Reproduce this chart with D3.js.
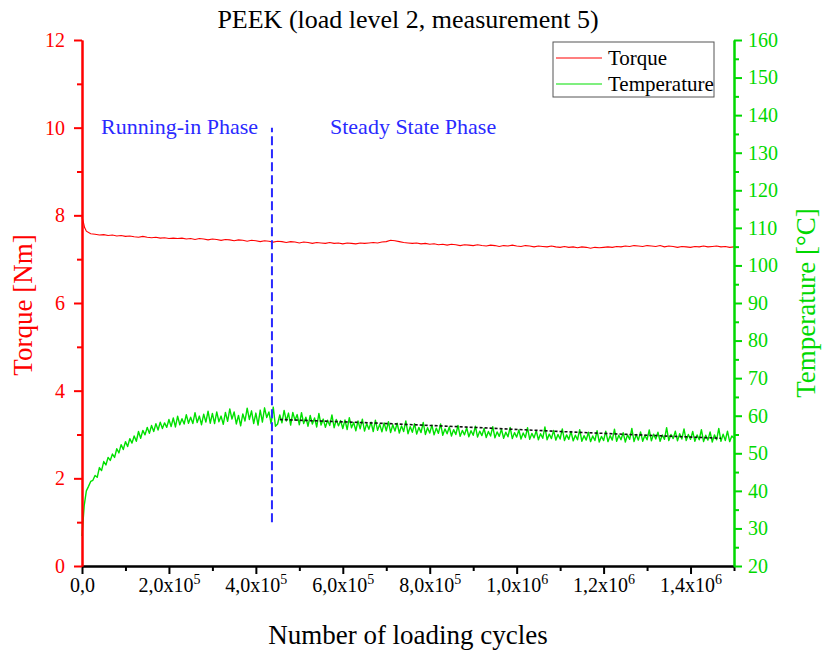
<!DOCTYPE html>
<html>
<head>
<meta charset="utf-8">
<script src="https://cdn.jsdelivr.net/npm/d3@7"></script>
<style>
body { margin: 0; background: #fff; }
#vis { width: 822px; height: 655px; }
text { font-family: "Liberation Serif", "Times New Roman", serif; }
</style>
</head>
<body>
<div id="vis"></div>
<script>
// torque [Nm]: first readings of the running-in drop, then one reading every 10000 cycles
var torqueHeadCycles = [0, 3e3, 6e3];
var torqueHeadValues = [7.96, 7.85, 7.72];
var torqueStep = 10000;
var torqueValues = [
    7.64, 7.58, 7.57, 7.55, 7.56, 7.54, 7.55, 7.53, 7.54, 7.52,
    7.53, 7.51, 7.50, 7.52, 7.50, 7.49, 7.50, 7.48, 7.49, 7.47,
    7.48, 7.47, 7.48, 7.46, 7.47, 7.45, 7.47, 7.46, 7.44, 7.46,
    7.45, 7.43, 7.45, 7.44, 7.42, 7.44, 7.43, 7.41, 7.43, 7.42,
    7.40, 7.42, 7.41, 7.39, 7.41, 7.40, 7.38, 7.40, 7.39, 7.37,
    7.39, 7.38, 7.36, 7.38, 7.37, 7.36, 7.38, 7.36, 7.37, 7.35,
    7.37, 7.36, 7.35, 7.37, 7.36, 7.37, 7.38, 7.37, 7.39, 7.40,
    7.43, 7.42, 7.40, 7.38, 7.37, 7.36, 7.37, 7.35, 7.36, 7.34,
    7.35, 7.33, 7.34, 7.32, 7.34, 7.33, 7.31, 7.33, 7.32, 7.31,
    7.33, 7.31, 7.30, 7.32, 7.31, 7.29, 7.31, 7.30, 7.32, 7.30,
    7.29, 7.31, 7.30, 7.28, 7.30, 7.29, 7.28, 7.30, 7.28, 7.27,
    7.29, 7.27, 7.28, 7.26, 7.28, 7.27, 7.25, 7.27, 7.26, 7.27,
    7.28, 7.27, 7.29, 7.28, 7.30, 7.29, 7.31, 7.30, 7.29, 7.31,
    7.30, 7.29, 7.31, 7.28, 7.30, 7.29, 7.27, 7.29, 7.28, 7.27,
    7.29, 7.28, 7.30, 7.28, 7.29, 7.30, 7.28, 7.29, 7.27, 7.28
];

// temperature [°C], one reading every 5000 cycles
var tempStep = 5000;
var tempValues = [
    28, 36, 40, 41.2, 42.5, 42.8, 44.1, 43.6, 46.2, 45.4, 47.8, 46.9, 48.9, 48.1, 49.8, 48.9, 51.2, 50.1, 52.3, 51.0,
    53.1, 51.8, 53.9, 52.7, 54.6, 53.2, 55.8, 54.0, 56.1, 54.9, 56.9, 55.3, 57.4, 55.8, 57.9, 56.2, 58.3, 56.6, 58.1, 56.9,
    59.0, 57.1, 59.4, 57.0, 59.9, 57.6, 59.2, 57.8, 60.3, 58.0, 59.6, 57.9, 60.8, 58.2, 59.9, 57.6, 60.4, 58.3, 61.2, 58.0,
    60.6, 57.9, 61.0, 58.4, 59.9, 57.7, 60.9, 58.5, 61.8, 59.1, 61.0, 57.8, 60.1, 57.3, 60.5, 58.6, 62.0, 59.0, 61.3, 57.9,
    60.7, 57.5, 61.5, 58.3, 62.1, 59.5, 61.0, 57.9, 62.3, 57.2, 57.8, 60.2, 58.1, 61.4, 58.6, 60.7, 57.5, 60.9, 58.8, 60.3,
    57.6, 60.8, 57.9, 59.6, 57.2, 60.1, 57.8, 59.4, 57.0, 60.6, 57.5, 59.1, 56.9, 58.8, 57.4, 60.2, 56.8, 59.0, 57.3, 58.7,
    56.6, 58.9, 56.3, 59.5, 56.8, 58.2, 56.0, 58.6, 56.5, 59.1, 55.9, 57.9, 56.4, 58.3, 55.8, 58.8, 56.1, 57.7, 55.7, 58.1,
    56.0, 58.4, 55.5, 57.6, 55.9, 58.0, 55.4, 57.3, 55.8, 58.6, 55.2, 57.1, 55.6, 57.9, 55.1, 56.9, 55.5, 58.2, 55.0, 56.8,
    55.4, 57.5, 54.9, 56.7, 55.3, 57.8, 54.8, 56.5, 55.2, 57.0, 54.6, 56.3, 55.0, 57.4, 54.5, 56.1, 54.9, 56.8, 54.4, 56.0,
    54.8, 57.2, 54.3, 55.9, 54.7, 56.6, 54.2, 55.8, 54.6, 57.1, 54.1, 55.7, 54.5, 56.4, 54.0, 55.6, 54.4, 56.9, 53.9, 55.5,
    54.3, 56.2, 53.8, 55.4, 54.2, 56.8, 53.7, 55.3, 54.1, 56.0, 53.6, 55.2, 54.0, 57.0, 53.6, 55.1, 53.9, 56.1, 53.5, 55.0,
    53.8, 56.5, 53.4, 54.9, 53.7, 55.8, 53.3, 54.8, 53.6, 56.3, 53.2, 54.7, 53.5, 55.6, 53.1, 54.6, 53.4, 56.0, 53.0, 54.5,
    53.4, 55.9, 53.1, 54.7, 53.5, 56.4, 53.2, 54.8, 53.6, 55.5, 53.0, 54.9, 53.7, 56.6, 53.1, 55.0, 53.5, 55.7, 53.2, 54.8,
    53.6, 56.2, 53.3, 55.1, 53.8, 55.6, 53.2, 54.9, 53.7, 56.8, 53.4, 55.0, 53.9, 55.9, 53.3, 55.2, 53.8, 56.5, 53.4, 55.0,
    53.7, 55.8, 53.2, 54.9, 53.6, 56.3, 53.1, 54.8, 53.5, 55.7, 53.0, 54.9, 53.6, 56.6, 53.2, 55.1, 53.4, 55.9, 53.1, 54.6,
    54.0
];

// steady state trend of temperature
var trendCycles = [4.55e5, 6.85e5, 9e5, 1.1e6, 1.3e6, 1.47e6];
var trendValues = [59.0, 58.0, 56.9, 55.8, 54.8, 54.0];

// phase boundary (cycles) and its extent in torque units
var phaseCycle = 4.37e5;
var phaseTorque = [1, 10];

var xTicks = [0, 2e5, 4e5, 6e5, 8e5, 1e6, 1.2e6, 1.4e6];
var xTickMantissa = ['0,0', '2,0', '4,0', '6,0', '8,0', '1,0', '1,2', '1,4'];
var xTickExp = ['', '5', '5', '5', '5', '6', '6', '6'];
var xMinor = [1e5, 3e5, 5e5, 7e5, 9e5, 1.1e6, 1.3e6, 1.5e6];
var torqueTicks = [0, 2, 4, 6, 8, 10, 12];
var torqueMinor = [1, 3, 5, 7, 9, 11];
var tempTicks = [20, 30, 40, 50, 60, 70, 80, 90, 100, 110, 120, 130, 140, 150, 160];
var tempMinor = [25, 35, 45, 55, 65, 75, 85, 95, 105, 115, 125, 135, 145, 155];

var RED = '#ff0000';
var GREEN = '#00d800';
var LINE_GREEN = '#00e000';
var BLUE = '#2a2aff';

var width = 822, height = 655;
var margin = { top: 40, bottom: 89, left: 82, right: 88 };

var svg = d3.select('#vis')
    .append('svg')
    .attr('width', width)
    .attr('height', height)
    .append('g')
    .attr('transform', 'translate(' + margin.left + ',' + margin.top + ')');

var w = width - margin.left - margin.right;
var h = height - margin.top - margin.bottom;

var x_scale = d3.scaleLinear().domain([0, 1.5e6]).range([0, w]);
var yT = d3.scaleLinear().domain([0, 12]).range([h, 0]);
var yC = d3.scaleLinear().domain([20, 160]).range([h, 0]);

// data lines
svg.append('path')
    .datum(tempValues)
    .attr('d', d3.line()
        .x(function(d, i) { return x_scale(i * tempStep); })
        .y(function(d) { return yC(d); }))
    .attr('fill', 'none')
    .attr('stroke', LINE_GREEN)
    .attr('stroke-width', 1.4)
    .attr('stroke-linejoin', 'round');

svg.append('path')
    .datum(trendValues)
    .attr('d', d3.line()
        .x(function(d, i) { return x_scale(trendCycles[i]); })
        .y(function(d) { return yC(d); }))
    .attr('fill', 'none')
    .attr('stroke', '#111')
    .attr('stroke-width', 1.6)
    .attr('stroke-dasharray', '3,2');

var torquePoints = torqueHeadCycles.map(function(c, i) { return [c, torqueHeadValues[i]]; })
    .concat(torqueValues.map(function(v, i) { return [(i + 1) * torqueStep, v]; }));

svg.append('path')
    .datum(torquePoints)
    .attr('d', d3.line()
        .x(function(d) { return x_scale(d[0]); })
        .y(function(d) { return yT(d[1]); }))
    .attr('fill', 'none')
    .attr('stroke', RED)
    .attr('stroke-width', 1.1);

svg.append('line')
    .attr('x1', x_scale(phaseCycle)).attr('x2', x_scale(phaseCycle))
    .attr('y1', yT(phaseTorque[0])).attr('y2', yT(phaseTorque[1]))
    .attr('stroke', BLUE)
    .attr('stroke-width', 2)
    .attr('stroke-dasharray', '9,4');

// axes
function styleAxis(g, colour, size) {
    g.attr('font-family', '"Liberation Serif", "Times New Roman", serif')
        .attr('font-size', size);
    g.select('.domain').attr('stroke', colour).attr('stroke-width', 2);
    g.selectAll('.tick line').attr('stroke', colour).attr('stroke-width', 2);
    g.selectAll('.tick text').attr('fill', colour);
}

// bottom
var gx = svg.append('g').attr('transform', 'translate(0,' + h + ')');
gx.call(d3.axisBottom(x_scale).tickValues(xMinor).tickSize(5).tickSizeOuter(0).tickFormat(''));
styleAxis(gx, '#000', 20);
var gx2 = svg.append('g').attr('transform', 'translate(0,' + h + ')');
gx2.call(d3.axisBottom(x_scale).tickValues(xTicks).tickSize(8).tickPadding(4).tickSizeOuter(0));
styleAxis(gx2, '#000', 20);
gx2.selectAll('.tick text').each(function(d, i) {
    var t = d3.select(this).text('');
    t.append('tspan').text(xTickMantissa[i] + (xTickExp[i] ? 'x10' : ''));
    if (xTickExp[i]) {
        t.append('tspan').attr('dy', -8).attr('font-size', 14).text(xTickExp[i]);
    }
});

// left
var gl = svg.append('g');
gl.call(d3.axisLeft(yT).tickValues(torqueMinor).tickSize(5).tickSizeOuter(0).tickFormat(''));
styleAxis(gl, RED, 20);
var gl2 = svg.append('g');
gl2.call(d3.axisLeft(yT).tickValues(torqueTicks).tickSize(8).tickPadding(9).tickSizeOuter(0));
styleAxis(gl2, RED, 20);

// right
var gr = svg.append('g').attr('transform', 'translate(' + w + ',0)');
gr.call(d3.axisRight(yC).tickValues(tempMinor).tickSize(5).tickSizeOuter(0).tickFormat(''));
styleAxis(gr, GREEN, 20);
var gr2 = svg.append('g').attr('transform', 'translate(' + w + ',0)');
gr2.call(d3.axisRight(yC).tickValues(tempTicks).tickSize(8).tickPadding(6).tickSizeOuter(0));
styleAxis(gr2, GREEN, 20);

// titles
svg.append('text')
    .attr('x', w / 2).attr('y', -12)
    .attr('text-anchor', 'middle')
    .attr('font-size', 26)
    .text('PEEK (load level 2, measurement 5)');

svg.append('text')
    .attr('x', w / 2).attr('y', h + 78)
    .attr('text-anchor', 'middle')
    .attr('font-size', 27)
    .text('Number of loading cycles');

svg.append('text')
    .attr('transform', 'translate(' + (-50) + ',' + (h / 2 + 2) + ') rotate(-90)')
    .attr('text-anchor', 'middle')
    .attr('fill', RED)
    .attr('font-size', 27)
    .text('Torque [Nm]');

svg.append('text')
    .attr('transform', 'translate(' + (w + 81) + ',' + (h / 2) + ') rotate(-90)')
    .attr('text-anchor', 'middle')
    .attr('fill', GREEN)
    .attr('font-size', 27)
    .text('Temperature [°C]');

// phase labels
svg.append('text')
    .attr('x', 19).attr('y', 94)
    .attr('fill', BLUE)
    .attr('font-size', 22)
    .text('Running-in Phase');

svg.append('text')
    .attr('x', 248).attr('y', 94)
    .attr('fill', BLUE)
    .attr('font-size', 22)
    .text('Steady State Phase');

// legend
var legend = svg.append('g').attr('transform', 'translate(471,2)');
legend.append('rect')
    .attr('width', 161).attr('height', 55)
    .attr('fill', '#fff')
    .attr('stroke', '#555')
    .attr('stroke-width', 1);
var legendItems = [['Torque', RED], ['Temperature', LINE_GREEN]];
legendItems.forEach(function(item, i) {
    var yy = 16 + i * 26;
    legend.append('line')
        .attr('x1', 3).attr('x2', 49)
        .attr('y1', yy).attr('y2', yy)
        .attr('stroke', item[1]).attr('stroke-width', 1.2);
    legend.append('text')
        .attr('x', 55).attr('y', yy + 7)
        .attr('font-size', 21)
        .text(item[0]);
});
</script>
</body>
</html>
